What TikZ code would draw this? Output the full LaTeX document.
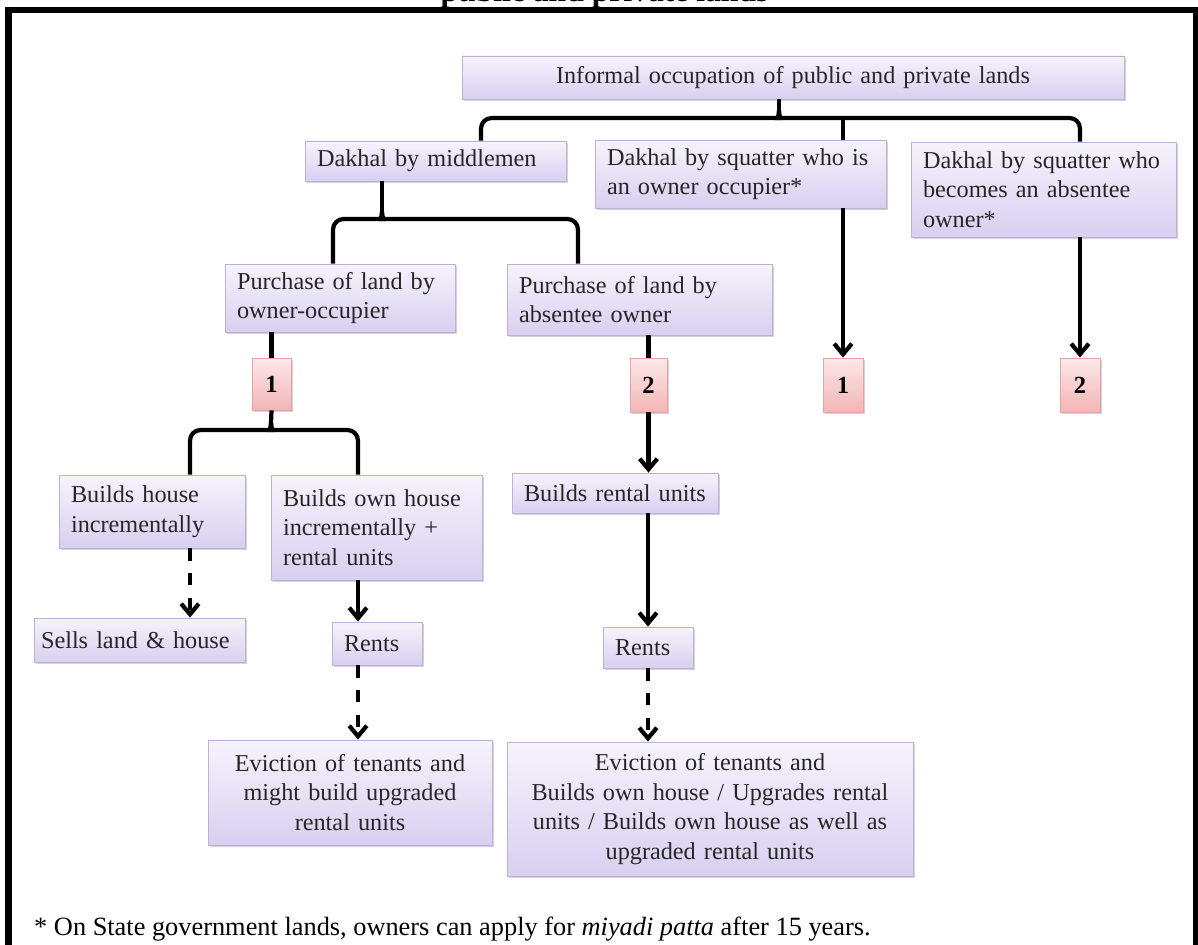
\documentclass[tikz,border=0pt]{standalone}
\usepackage{fontspec}
\setmainfont{Liberation Serif}
\usepackage{tikz}
\usetikzlibrary{arrows.meta,shadows}
\definecolor{boxtop}{HTML}{F6F3FC}
\definecolor{boxbot}{HTML}{D9CFF0}
\definecolor{boxline}{HTML}{BDB2D6}
\definecolor{numtop}{HTML}{FCE8E8}
\definecolor{numbot}{HTML}{F3B5B5}
\definecolor{numline}{HTML}{E2A4A4}

\begin{document}
\begin{tikzpicture}[x=0.02cm,y=-0.02cm,
      box/.style={draw=boxline,line width=0.5pt,top color=boxtop,bottom color=boxbot,
        drop shadow={shadow xshift=1.2pt,shadow yshift=-1.2pt,opacity=0.35},
        font=\fontsize{13.8}{16.8}\selectfont,text=black!85,inner xsep=0.24cm,inner ysep=0pt,align=left},
      numbox/.style={draw=numline,line width=0.5pt,top color=numtop,bottom color=numbot,
        drop shadow={shadow xshift=1.2pt,shadow yshift=-1.2pt,opacity=0.35},
        font=\fontsize{14}{16}\selectfont\bfseries,inner sep=0pt},
      link/.style={line width=2.4pt},
      arr/.style={link,-{Straight Barb[length=6pt,width=10pt]}},
      darr/.style={arr,dash pattern=on 7pt off 7pt}]
      \useasboundingbox (0,0) rectangle (1198,945);
      \clip (0,0) rectangle (1198,945);
      \node[anchor=base,font=\fontsize{18}{20}\selectfont\bfseries] (title) at (604.5,1.5) {public and private lands};
      \draw[line width=3.7pt] (8.5,960) -- (8.5,10) -- (1196,10) -- (1196,960);

      \node[box,align=center,text width=12.76cm,minimum height=0.86cm] (top) at (793,77.5) {Informal occupation of public and private lands};
      \node[box,text width=4.74cm,minimum height=0.80cm] (mid) at (435.5,161) {Dakhal by middlemen};
      \node[box,text width=5.34cm,minimum height=1.36cm] (sqo) at (740.5,174) {Dakhal by squatter who is\\an owner occupier*};
      \node[box,text width=4.82cm,minimum height=1.90cm] (sqa) at (1043.5,189.5) {Dakhal by squatter who\\becomes an absentee\\owner*};
      \node[box,text width=4.12cm,minimum height=1.36cm] (po) at (340,298) {Purchase of land by\\owner-occupier};
      \node[box,text width=4.82cm,minimum height=1.42cm] (pa) at (639.5,299.5) {Purchase of land by\\absentee owner};
      \node[numbox,minimum width=0.78cm,minimum height=1.04cm] (b1) at (271.5,384) {1};
      \node[numbox,minimum width=0.74cm,minimum height=1.08cm] (b2) at (648.5,385) {2};
      \node[numbox,minimum width=0.80cm,minimum height=1.08cm] (b1r) at (843,385) {1};
      \node[numbox,minimum width=0.80cm,minimum height=1.08cm] (b2r) at (1080,385) {2};
      \node[box,text width=3.24cm,minimum height=1.46cm] (bh) at (152,511.5) {Builds house\\incrementally};
      \node[box,text width=3.74cm,minimum height=2.10cm] (bo) at (376.5,527.5) {Builds own house\\incrementally +\\rental units};
      \node[box,text width=3.64cm,minimum height=0.80cm] (br) at (615,493) {Builds rental units};
      \node[box,inner xsep=0.14cm,text width=3.94cm,minimum height=0.88cm] (sl) at (139.5,640) {Sells land \& house};
      \node[box,text width=1.32cm,minimum height=0.86cm] (rl) at (377,643.5) {Rents};
      \node[box,text width=1.32cm,minimum height=0.82cm] (rr) at (648,647.5) {Rents};
      \node[box,align=center,text width=5.20cm,minimum height=2.10cm] (ev1) at (350,792.5) {Eviction of tenants and\\might build upgraded\\rental units};
      \node[box,align=center,text width=7.64cm,minimum height=2.68cm] (ev2) at (710,809) {Eviction of tenants and\\Builds own house / Upgrades rental\\units / Builds own house as well as\\upgraded rental units};

      \coordinate (j0) at (779,118);
      \coordinate (j1) at (382,219);
      \coordinate (j2) at (271,430);
      \draw[link] (top.south -| j0) -- ([yshift=4pt]j0);
      \draw[link,rounded corners=6pt] (mid.north -| 481,0) |- ([xshift=-4pt]j0) to[out=0,in=-90] ([yshift=4pt]j0);
      \draw[link,rounded corners=6pt] (sqa.north -| b2r) |- ([xshift=4pt]j0) to[out=180,in=-90] ([yshift=4pt]j0);
      \draw[link] (j0 -| b1r) -- (sqo.north -| b1r);
      \draw[link] (mid.south -| j1) -- ([yshift=4pt]j1);
      \draw[link,rounded corners=6pt] (po.north -| 333,0) |- ([xshift=-4pt]j1) to[out=0,in=-90] ([yshift=4pt]j1);
      \draw[link,rounded corners=6pt] (pa.north -| 578,0) |- ([xshift=4pt]j1) to[out=180,in=-90] ([yshift=4pt]j1);
      \draw[link] (po.south -| b1) -- (b1.north);
      \draw[link] (pa.south -| b2) -- (b2.north);
      \draw[arr] (sqo.south -| b1r) -- (b1r.north);
      \draw[arr] (sqa.south -| b2r) -- (b2r.north);
      \draw[link] (b1.south) -- ([yshift=4pt]j2);
      \draw[link,rounded corners=6pt] (bh.north -| 190,0) |- ([xshift=-4pt]j2) to[out=0,in=-90] ([yshift=4pt]j2);
      \draw[link,rounded corners=6pt] (bo.north -| 358,0) |- ([xshift=4pt]j2) to[out=180,in=-90] ([yshift=4pt]j2);
      \draw[darr] (bh.south -| 190,0) -- (sl.north -| 190,0);
      \draw[arr] (bo.south -| 358,0) -- (rl.north -| 358,0);
      \draw[darr] (rl.south -| 358,0) -- (ev1.north -| 358,0);
      \draw[arr] (b2.south) -- (br.north -| b2);
      \draw[arr] (br.south -| rr) -- (rr.north);
      \draw[darr] (rr.south) -- (ev2.north -| rr);

      \node[anchor=base west,font=\fontsize{15}{17}\selectfont] (note) at (28,936) {* On State government lands, owners can apply for \textit{miyadi patta} after 15 years.};
    \end{tikzpicture}
\end{document}
